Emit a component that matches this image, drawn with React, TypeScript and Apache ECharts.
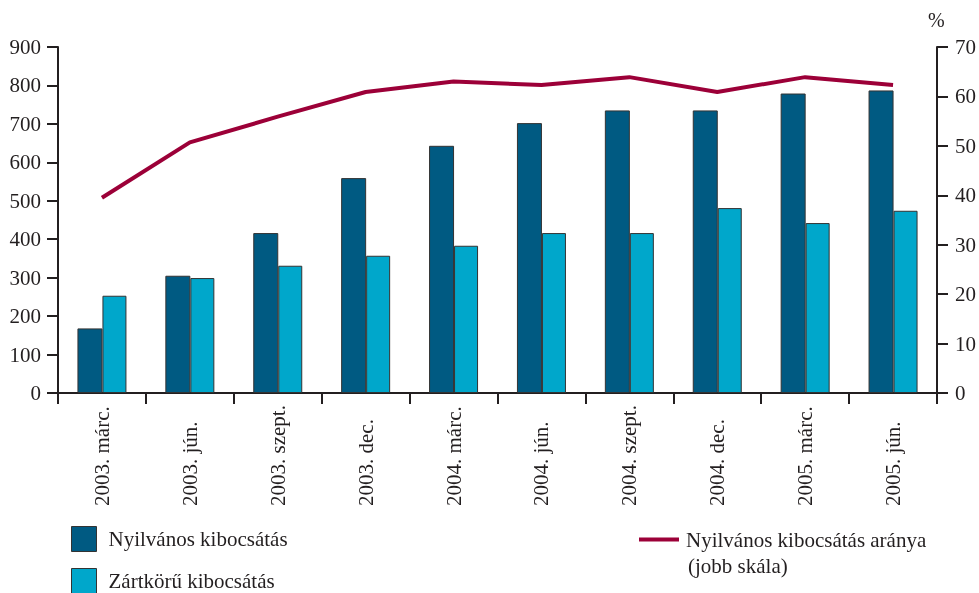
import React, { useEffect, useRef } from "react";
import * as echarts from "echarts";

const categories = [
  "2003. márc.", "2003. jún.", "2003. szept.", "2003. dec.",
  "2004. márc.", "2004. jún.", "2004. szept.", "2004. dec.",
  "2005. márc.", "2005. jún.",
];
const publicIssue = [168, 305, 416, 559, 643, 702, 735, 735, 779, 787];
const privateIssue = [253, 299, 331, 357, 383, 416, 416, 481, 442, 474];
const publicShare = [39.5, 50.7, 55.9, 60.9, 63.0, 62.3, 63.9, 60.9, 63.9, 62.3];
const leftTicks = { min: 0, max: 900, interval: 100 };
const rightTicks = { min: 0, max: 70, interval: 10 };

const FONT = "'Liberation Serif', 'Times New Roman', serif";
const TEXT = "#231f20";
const DARK = "#005a82";
const LIGHT = "#00a7cb";
const LINE = "#9c0038";

export default function App() {
  const ref = useRef<HTMLDivElement>(null);
  useEffect(() => {
    if (!ref.current) return;
    const chart = echarts.init(ref.current, null, { renderer: "svg" });
    chart.setOption({
      animation: false,
      textStyle: { fontFamily: FONT, color: TEXT },
      grid: { left: 58, right: 42, top: 47, bottom: 200, containLabel: false },
      legend: [
        {
          data: ["Nyilvános kibocsátás"],
          left: 66, top: 521, itemWidth: 25, itemHeight: 25, icon: "rect",
          itemStyle: { borderColor: "#333", borderWidth: 1 },
          textStyle: { fontFamily: FONT, fontSize: 21, color: TEXT, padding: [0, 0, 0, 7] },
        },
        {
          data: ["Zártkörű kibocsátás"],
          left: 66, top: 563, itemWidth: 25, itemHeight: 25, icon: "rect",
          itemStyle: { borderColor: "#333", borderWidth: 1 },
          textStyle: { fontFamily: FONT, fontSize: 21, color: TEXT, padding: [0, 0, 0, 7] },
        },
        {
          data: ["Nyilvános kibocsátás aránya"],
          left: 634, top: 524, itemWidth: 40, itemHeight: 4, icon: "rect",
          textStyle: { fontFamily: FONT, fontSize: 21, color: TEXT, padding: [0, 0, 0, 2] },
        },
      ],
      graphic: [
        { type: "text", left: 688, top: 555, style: { text: "(jobb skála)", font: `21px ${FONT}`, fill: TEXT } },
        { type: "text", left: 928, top: 10, style: { text: "%", font: `20px ${FONT}`, fill: TEXT } },
      ],
      xAxis: {
        type: "category",
        data: categories,
        boundaryGap: true,
        axisLine: { lineStyle: { color: TEXT, width: 2 } },
        axisTick: { show: true, length: 11, lineStyle: { color: TEXT, width: 2 } },
        axisLabel: {
          rotate: 90, align: "left", verticalAlign: "middle", margin: 113,
          fontFamily: FONT, fontSize: 21, color: TEXT, interval: 0,
        },
      },
      yAxis: [
        {
          type: "value", ...leftTicks,
          axisLine: { show: true, lineStyle: { color: TEXT, width: 2 } },
          axisTick: { show: true, length: 11, lineStyle: { color: TEXT, width: 2 } },
          splitLine: { show: false },
          axisLabel: { fontFamily: FONT, fontSize: 21, color: TEXT, margin: 17 },
        },
        {
          type: "value", ...rightTicks, position: "right",
          axisLine: { show: true, lineStyle: { color: TEXT, width: 2 } },
          axisTick: { show: true, length: 11, lineStyle: { color: TEXT, width: 2 } },
          splitLine: { show: false },
          axisLabel: { fontFamily: FONT, fontSize: 21, color: TEXT, margin: 18 },
        },
      ],
      series: [
        {
          name: "Nyilvános kibocsátás", type: "bar", data: publicIssue,
          barWidth: 25, barGap: "0%",
          itemStyle: { color: DARK, borderColor: "#333", borderWidth: 1 },
        },
        {
          name: "Zártkörű kibocsátás", type: "bar", data: privateIssue,
          barWidth: 24, barGap: "0%",
          itemStyle: { color: LIGHT, borderColor: "#333", borderWidth: 1 },
        },
        {
          name: "Nyilvános kibocsátás aránya", type: "line", yAxisIndex: 1, data: publicShare,
          showSymbol: false, symbol: "none",
          lineStyle: { color: LINE, width: 4 }, itemStyle: { color: LINE },
        },
      ],
    });
    return () => chart.dispose();
  }, []);
  return <div ref={ref} style={{ width: 979, height: 593, position: "fixed", left: 0, top: 0 }} />;
}
